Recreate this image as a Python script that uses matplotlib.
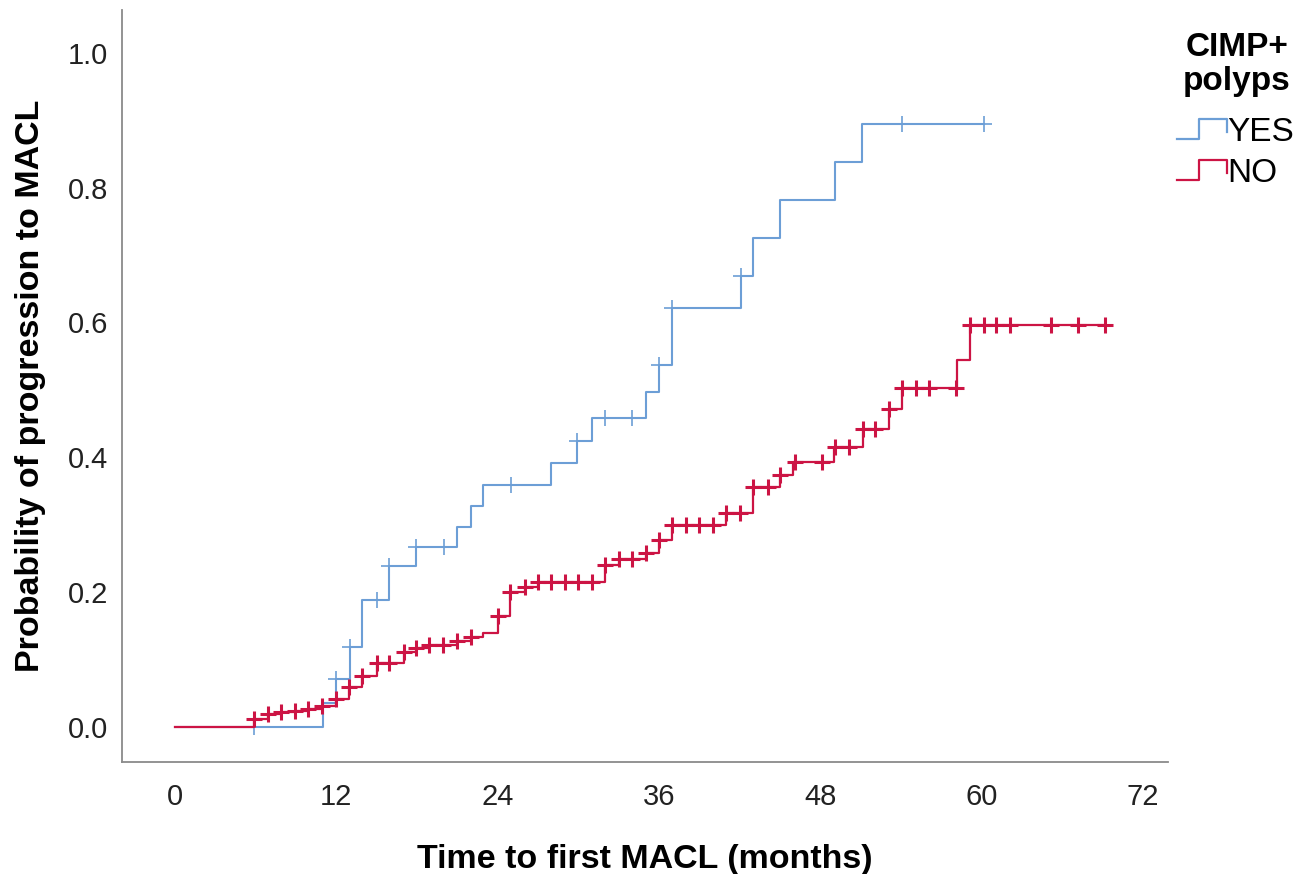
import numpy as np
import matplotlib
matplotlib.use('Agg')
import matplotlib.pyplot as plt
from matplotlib.legend_handler import HandlerBase
from matplotlib.lines import Line2D

plt.rcParams['font.family'] = ['Liberation Sans', 'DejaVu Sans']

# cumulative probability of progression (step function) for each group
yes_times = [11.0, 12.0, 13.0, 13.9, 15.9, 17.9, 21.0, 22.0, 22.9, 28.0, 29.9, 31.0,
             35.0, 36.0, 37.0, 42.1, 43.0, 45.0, 49.1, 51.1]
yes_prob = [0.035, 0.071, 0.119, 0.188, 0.239, 0.267, 0.297, 0.328, 0.359, 0.392, 0.424, 0.458,
            0.497, 0.537, 0.622, 0.669, 0.726, 0.782, 0.838, 0.895]
yes_censor = [5.9, 12.0, 13.0, 15.0, 15.9, 17.9, 20.0, 25.0, 29.9, 32.0, 34.0, 36.0,
              37.0, 42.1, 54.1, 60.2]

no_times = [5.9, 6.9, 7.9, 8.9, 9.9, 10.9, 12.0, 12.9, 13.9, 15.0, 17.0, 17.9, 18.9,
            21.0, 22.0, 22.9, 24.0, 24.9, 26.0, 27.0, 32.0, 33.0, 35.0, 36.0, 37.0,
            41.0, 43.0, 45.0, 46.0, 49.0, 51.2, 53.1, 54.1, 58.2, 59.1]
no_prob = [0.012, 0.019, 0.022, 0.024, 0.027, 0.031, 0.042, 0.060, 0.075, 0.095, 0.112, 0.117, 0.121,
           0.128, 0.133, 0.139, 0.164, 0.201, 0.208, 0.215, 0.240, 0.249, 0.258, 0.278, 0.300,
           0.317, 0.356, 0.374, 0.393, 0.416, 0.442, 0.472, 0.503, 0.545, 0.596]
no_censor = [5.9, 6.9, 7.9, 8.9, 9.9, 10.9, 12.0, 12.9, 13.9, 15.0, 15.9, 17.0, 17.9, 18.9,
             19.9, 21.0, 22.0, 24.0, 24.9, 26.0, 27.0, 28.0, 29.0, 30.0, 31.0, 32.0, 33.0,
             34.0, 35.0, 36.0, 37.0, 38.0, 39.0, 40.0, 41.0, 42.0, 43.0, 44.1, 45.0, 46.1,
             48.1, 49.1, 50.1, 51.2, 52.1, 53.1, 54.1, 55.1, 56.1, 58.1, 59.1, 60.2, 61.1,
             62.1, 65.2, 67.2, 69.2]

x_ticks = [0, 12, 24, 36, 48, 60, 72]
y_ticks = [0.0, 0.2, 0.4, 0.6, 0.8, 1.0]

blue = '#6c9ed6'
red = '#cc1444'


def curve(times, prob, censor):
    x = [0] + list(times) + [max(censor[-1], times[-1])]
    y = [0] + list(prob) + [prob[-1]]
    t = np.array(times)
    idx = np.searchsorted(t, np.array(censor) + 1e-9, side='right') - 1
    cy = np.where(idx >= 0, np.array(prob)[np.clip(idx, 0, None)], 0.0)
    return x, y, cy


class StepHandler(HandlerBase):
    def create_artists(self, legend, orig_handle, xdescent, ydescent, width, height, fontsize, trans):
        w, h = width, height
        x0, y0 = -xdescent, -ydescent
        xs = [x0, x0 + 0.45 * w, x0 + 0.45 * w, x0 + w, x0 + w]
        ys = [y0 + 0.1 * h, y0 + 0.1 * h, y0 + 0.95 * h, y0 + 0.95 * h, y0 + 0.4 * h]
        line = Line2D(xs, ys, color=orig_handle.get_color(), lw=1.6, transform=trans)
        return [line]


fig = plt.figure(figsize=(13.08, 8.74), dpi=100)
ax = fig.add_axes([0.0933, 0.128, 0.80, 0.861])

xb, yb, cb = curve(yes_times, yes_prob, yes_censor)
xr, yr, cr = curve(no_times, no_prob, no_censor)

lb, = ax.step(xb, yb, where='post', color=blue, lw=1.5, label='YES')
ax.plot(yes_censor, cb, ls='none', marker='+', ms=11, mew=1.2, color=blue)
lr, = ax.step(xr, yr, where='post', color=red, lw=1.6, label='NO')
ax.plot(no_censor, cr, ls='none', marker='+', ms=11, mew=2.2, color=red)

ax.set_xlim(-3.95, 73.9)
ax.set_ylim(-0.052, 1.064)
ax.set_xticks(x_ticks)
ax.set_yticks(y_ticks)
ax.set_yticklabels([f'{v:.1f}' for v in y_ticks])
ax.tick_params(length=0, labelsize=21, colors='#222222')
ax.tick_params(axis='x', pad=15)
ax.tick_params(axis='y', pad=10)
for s in ['top', 'right']:
    ax.spines[s].set_visible(False)
for s in ['left', 'bottom']:
    ax.spines[s].set_color('#8a8a8a')
    ax.spines[s].set_linewidth(1.3)

ax.set_xlabel('Time to first MACL (months)', fontsize=24.5, fontweight='bold', labelpad=24)
ax.set_ylabel('Probability of progression to MACL', fontsize=24.5, fontweight='bold', labelpad=16)

# legend title as separate text so the gap to the entries matches
fig.text(0.987, 0.963, 'CIMP+\npolyps', ha='right', va='top', multialignment='center',
         fontsize=24, fontweight='bold', linespacing=1.1)
leg = fig.legend([lb, lr], ['YES', 'NO'], loc='upper right', bbox_to_anchor=(1.012, 0.9),
                 frameon=False, fontsize=24,
                 handler_map={Line2D: StepHandler()}, handlelength=1.5, handletextpad=0.0,
                 labelspacing=0.3)

fig.savefig('out.png', dpi=100)
